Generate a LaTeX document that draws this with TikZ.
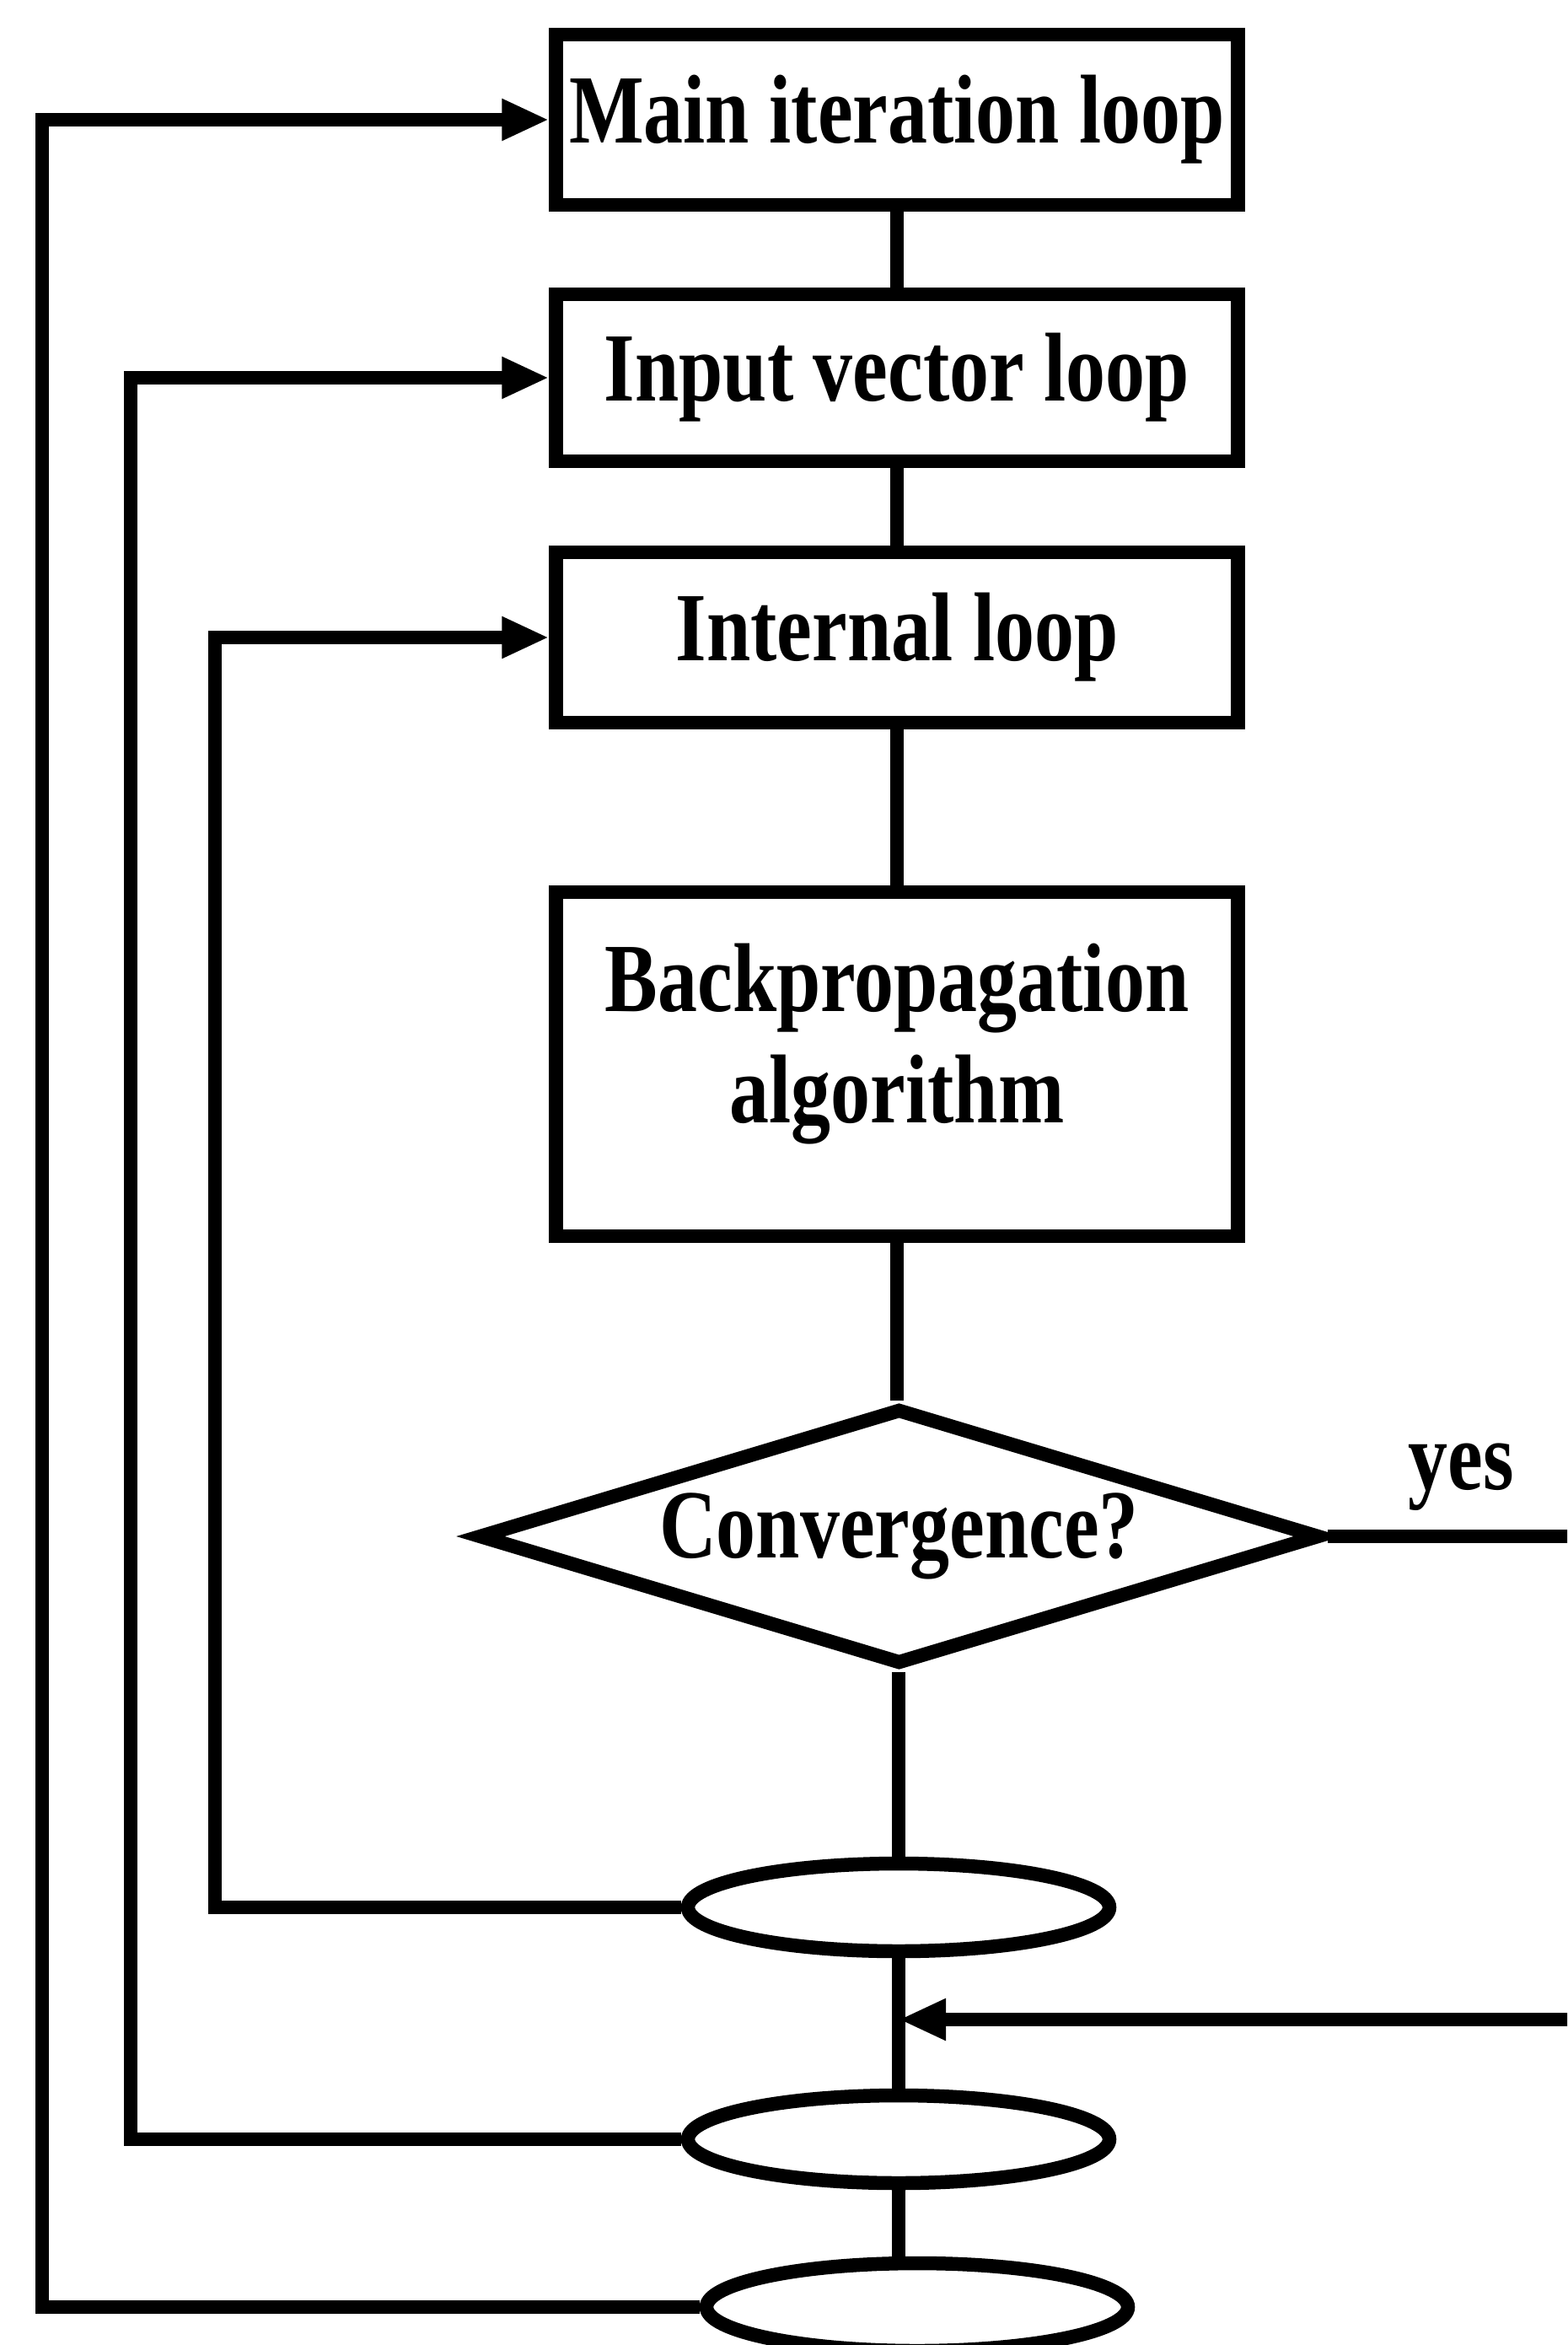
\documentclass[tikz,border=0pt]{standalone}
\usepackage{fontspec}
\setmainfont{Liberation Serif}[FakeStretch=0.81]
\usetikzlibrary{shapes.geometric,arrows.meta}
\begin{document}
\begin{tikzpicture}[x=1cm,y=1cm,
  lw/.style={line width=0.165cm},
  lbl/.style={font=\fontsize{33}{37.7}\selectfont\bfseries},
  box/.style={draw, lw, lbl, minimum width=8.09cm, inner sep=0pt},
  ell/.style={draw, lw, ellipse, minimum width=5.0cm, minimum height=1.04cm, inner sep=0pt},
  arr/.style={lw, -{Triangle[length=0.56cm,width=0.46cm]}}
]
\useasboundingbox (0,0) rectangle (18.59,-27.81);
\clip (0,0) rectangle (18.59,-27.81);

\node[box, minimum height=2.02cm] (main) at (10.64,-1.42) {Main iteration loop};
\node[box, minimum height=1.98cm] (input) at (10.64,-4.48) {Input vector loop};
\node[box, minimum height=2.02cm] (internal) at (10.64,-7.56) {Internal loop};
\node[box, minimum height=4.08cm] (bp) at (10.64,-12.62) {};
\node[lbl, align=center, inner sep=0pt] (bptext) at (10.64,-12.38) {Backpropagation\\algorithm};
\node[draw, lw, diamond, lbl, minimum width=10.0cm, minimum height=3.05cm, inner sep=0pt, aspect=3.3] (conv) at (10.665,-18.22) {Convergence?};
\node[lbl, inner sep=0pt] (yes) at (17.33,-17.52) {yes};

\node[ell] (e1) at (10.66,-22.62) {};
\node[ell] (e2) at (10.66,-25.37) {};
\node[ell] (e3) at (10.88,-27.36) {};

\coordinate (L1) at (0.50,0);
\coordinate (L2) at (1.55,0);
\coordinate (L3) at (2.55,0);
\coordinate (R) at (18.75,0);
\coordinate (A) at (10.66,-23.95);

\draw[lw] (main) -- (input);
\draw[lw] (input) -- (internal);
\draw[lw] (internal) -- (bp);
\draw[lw] (bp.south) -- (bp.south |- conv.north);
\draw[lw] (conv.south -| e1.north) -- (e1);
\draw[lw] (e1) -- (e2);
\draw[lw] (e2.south) -- (e2.south |- e3.north);

\draw[lw] (conv.east) -- (conv.east -| R);
\draw[arr] (A -| R) -- (A);

\draw[arr] (e1.west) -- (e1.west -| L3) -- (L3 |- internal.west) -- (internal.west);
\draw[arr] (e2.west) -- (e2.west -| L2) -- (L2 |- input.west) -- (input.west);
\draw[arr] (e3.west) -- (e3.west -| L1) -- (L1 |- main.west) -- (main.west);
\end{tikzpicture}
\end{document}
